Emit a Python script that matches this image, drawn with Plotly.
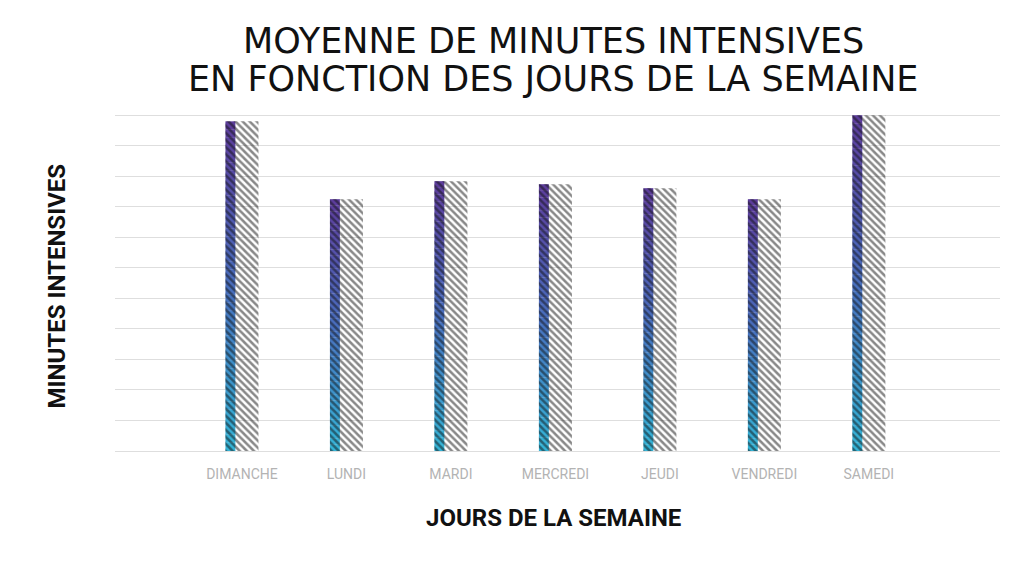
import plotly.graph_objects as go

days = ["DIMANCHE", "LUNDI", "MARDI", "MERCREDI", "JEUDI", "VENDREDI", "SAMEDI"]
minutes = [108.0, 82.5, 88.4, 87.4, 86.1, 82.5, 110.0]

title_lines = ["MOYENNE DE MINUTES INTENSIVES", "EN FONCTION DES JOURS DE LA SEMAINE"]
y_title = "MINUTES INTENSIVES"
x_title = "JOURS DE LA SEMAINE"

# gradient: top purple -> middle blue -> bottom cyan
stops = [(0.0, (52, 182, 216)), (0.5, (72, 110, 190)), (1.0, (94, 60, 156))]


def grad(t):
    for (t0, c0), (t1, c1) in zip(stops[:-1], stops[1:]):
        if t <= t1:
            f = (t - t0) / (t1 - t0)
            return "rgb(%d,%d,%d)" % tuple(round(a + (b - a) * f) for a, b in zip(c0, c1))
    return "rgb(%d,%d,%d)" % stops[-1][1]


N = 40
gx, gy, gb, gc = [], [], [], []
for d, v in zip(days, minutes):
    for i in range(N):
        gx.append(d)
        gy.append(v / N * 1.03 if i < N - 1 else v / N)
        gb.append(v * i / N)
        gc.append(grad((i + 0.5) / N))

fig = go.Figure()
fig.add_trace(go.Bar(
    x=gx, y=gy, base=gb,
    width=0.095, offset=-0.158,
    marker=dict(color=gc, line=dict(width=0)),
    hoverinfo="skip", showlegend=False,
))
fig.add_trace(go.Bar(
    x=days, y=minutes,
    width=0.316, offset=-0.158,
    marker=dict(color="rgba(0,0,0,0)", line=dict(width=0),
                pattern=dict(shape="\\", fgcolor="#111111", size=5, solidity=0.5,
                             fillmode="overlay")),
    showlegend=False,
))

title_y_px = [41, 79]  # centres of the two title lines, px from top
plot_top, plot_h = 114, 337
annotations = [
    dict(text=t, xref="paper", yref="paper", x=0.4955,
         y=1 + (plot_top - py) / plot_h,
         xanchor="center", yanchor="middle", showarrow=False,
         font=dict(family="DejaVu Sans", size=35, color="#111111"))
    for t, py in zip(title_lines, title_y_px)
]
annotations += [
    dict(text=y_title, xref="paper", yref="paper", x=-0.066, y=0.49,
         xanchor="center", yanchor="middle", textangle=-90, showarrow=False,
         font=dict(family="Roboto", size=24, color="#111111", weight="bold")),
    dict(text=x_title, xref="paper", yref="paper", x=0.495, y=-0.2,
         xanchor="center", yanchor="middle", showarrow=False,
         font=dict(family="Roboto", size=24, color="#111111", weight="bold")),
]

fig.update_layout(
    width=1024, height=573,
    margin=dict(l=115, r=24, t=plot_top, b=573 - plot_top - plot_h),
    paper_bgcolor="white", plot_bgcolor="white",
    barmode="overlay",
    xaxis=dict(range=[-1.215, 7.255], showgrid=False, showline=False, ticks="",
               tickfont=dict(family="Roboto", size=14, color="#b3b3b3"),
               ticklabelstandoff=13, categoryorder="array", categoryarray=days),
    yaxis=dict(range=[0, 110.4], dtick=10, showticklabels=False, showgrid=True,
               gridcolor="#dedede", gridwidth=1, zeroline=True, zerolinecolor="#dedede",
               zerolinewidth=1),
    annotations=annotations,
)

fig.write_html("out.html")
